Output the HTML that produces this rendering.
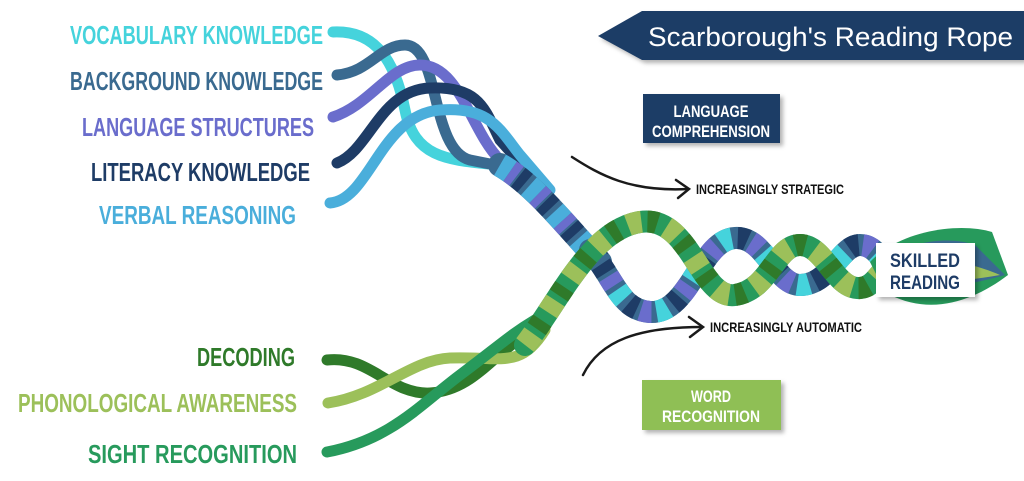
<!DOCTYPE html>
<html><head><meta charset="utf-8"><style>
html,body{margin:0;padding:0;background:#fff;}
svg{display:block;}
text{font-family:"Liberation Sans Narrow","Liberation Sans",sans-serif;font-weight:bold;}
</style></head><body>
<svg width="1024" height="481" viewBox="0 0 1024 481" xmlns="http://www.w3.org/2000/svg">
<defs>
<filter id="sh" x="-10%" y="-10%" width="130%" height="140%"><feDropShadow dx="3" dy="3" stdDeviation="2" flood-color="#000" flood-opacity="0.3"/></filter>
</defs>
<g font-size="26">
<text x="70" y="44" textLength="253" lengthAdjust="spacingAndGlyphs" fill="#45d3dc">VOCABULARY KNOWLEDGE</text>
<text x="70" y="90" textLength="253" lengthAdjust="spacingAndGlyphs" fill="#3a6a90">BACKGROUND KNOWLEDGE</text>
<text x="82" y="136" textLength="232" lengthAdjust="spacingAndGlyphs" fill="#6a6dcc">LANGUAGE STRUCTURES</text>
<text x="91" y="181" textLength="219" lengthAdjust="spacingAndGlyphs" fill="#1e3c66">LITERACY KNOWLEDGE</text>
<text x="99" y="224" textLength="197" lengthAdjust="spacingAndGlyphs" fill="#4aaedb">VERBAL REASONING</text>
<text x="197" y="366" textLength="98" lengthAdjust="spacingAndGlyphs" fill="#2f7a2a">DECODING</text>
<text x="18" y="412" textLength="279" lengthAdjust="spacingAndGlyphs" fill="#9cc05a">PHONOLOGICAL AWARENESS</text>
<text x="88" y="463" textLength="209" lengthAdjust="spacingAndGlyphs" fill="#279a5c">SIGHT RECOGNITION</text>
</g>
<g fill="none" stroke-linecap="round" stroke-width="11">
<path d="M333,32 C375,30 395,60 405,110 C415,160 450,160 500,165" stroke="#45d3dc"/>
<path d="M337,75 C370,72 380,45 405,45 C440,45 430,150 470,160 L520,170" stroke="#3a6a90"/>
<path d="M333,117 C370,105 390,65 420,65 C460,65 470,130 500,160 L530,175" stroke="#6a6dcc"/>
<path d="M337,163 C370,150 380,90 430,88 C480,86 485,110 500,140 L545,190" stroke="#1e3c66"/>
<path d="M330,203 C370,200 380,115 440,110 C490,106 500,130 520,155 L550,190" stroke="#4aaedb"/>
<path d="M500,165 C535,185 565,225 600,262" stroke="#3a6a90" stroke-width="24"/>
<path d="M500,165 C535,185 565,225 600,262" stroke="#4aaedb" stroke-width="24" stroke-dasharray="12 24" stroke-linecap="butt"/>
<path d="M500,165 C535,185 565,225 600,262" stroke="#1e3c66" stroke-width="24" stroke-dasharray="9 27" stroke-dashoffset="14" stroke-linecap="butt"/>
<path d="M500,165 C535,185 565,225 600,262" stroke="#6a6dcc" stroke-width="24" stroke-dasharray="8 28" stroke-dashoffset="24" stroke-linecap="butt"/>
<path d="M327,360 C370,355 390,395 430,393 C480,390 500,340 540,330" stroke="#2f7a2a"/>
<path d="M328,403 C380,395 410,360 450,358 C500,356 520,370 545,330" stroke="#9cc05a"/>
<path d="M327,452 C390,440 420,405 460,375 C500,345 510,335 535,320" stroke="#279a5c"/>
</g>
<g fill="none" stroke-linecap="round" stroke-width="22">
<path id="b" d="M590,250 C615,280 620,310 650,312 C690,314 700,240 735,238 C765,236 775,285 800,285 C830,285 840,245 860,245 C875,245 880,260 890,265"/>
<use href="#b" stroke="#3a6a90"/>
<use href="#b" stroke="#45d3dc" stroke-dasharray="12 36" stroke-linecap="butt"/>
<use href="#b" stroke="#6a6dcc" stroke-dasharray="11 37" stroke-dashoffset="16" stroke-linecap="butt"/>
<use href="#b" stroke="#1e3c66" stroke-dasharray="10 38" stroke-dashoffset="30" stroke-linecap="butt"/>
<path id="g" d="M525,345 C560,300 590,230 640,222 C690,214 700,300 735,295 C770,290 775,245 800,245 C825,245 835,290 860,288 C875,287 880,270 890,265"/>
<use href="#g" stroke="#279a5c"/>
<use href="#g" stroke="#9cc05a" stroke-dasharray="14 26" stroke-linecap="butt"/>
<use href="#g" stroke="#2f7a2a" stroke-dasharray="10 30" stroke-dashoffset="20" stroke-linecap="butt"/>
</g>
<path d="M870,262 C900,230 960,222 992,232 L1008,275 C975,300 930,318 885,292 Z" fill="#279a5c"/>
<path d="M880,262 C910,240 950,236 975,245 L1005,275 C970,285 930,292 890,280 Z" fill="#3a6a90"/>
<path d="M900,270 C930,258 960,258 1000,275 C960,282 930,284 900,278 Z" fill="#9cc05a"/>
<rect x="876" y="243" width="99" height="54" fill="#fff" filter="url(#sh)"/>
<text x="925" y="267" font-size="19" fill="#1e3c66" text-anchor="middle" textLength="70" lengthAdjust="spacingAndGlyphs">SKILLED</text>
<text x="925" y="289" font-size="19" fill="#1e3c66" text-anchor="middle" textLength="70" lengthAdjust="spacingAndGlyphs">READING</text>
<g fill="none" stroke="#1a1a1a" stroke-width="2.5" stroke-linecap="round">
<path d="M572,157 C600,175 630,192 688,189"/>
<path d="M676,180 L689,189 L678,198"/>
<path d="M583,375 C600,340 640,327 702,327"/>
<path d="M689,317 L703,327 L690,337"/>
</g>
<text x="696" y="194" font-size="14" fill="#111" textLength="148" lengthAdjust="spacingAndGlyphs">INCREASINGLY STRATEGIC</text>
<text x="710" y="332" font-size="14" fill="#111" textLength="152" lengthAdjust="spacingAndGlyphs">INCREASINGLY AUTOMATIC</text>
<polygon points="598,36 642,11 1024,11 1024,60 642,60" fill="#1f3e66" filter="url(#sh)"/>
<text x="648" y="46" font-size="27" fill="#fff" style="font-family:'Liberation Sans',sans-serif;font-weight:normal" textLength="365" lengthAdjust="spacingAndGlyphs">Scarborough's Reading Rope</text>
<rect x="643" y="94" width="137" height="49" fill="#1f3e66" filter="url(#sh)"/>
<text x="711" y="117" font-size="17" fill="#fff" text-anchor="middle" textLength="75" lengthAdjust="spacingAndGlyphs">LANGUAGE</text>
<text x="711" y="137" font-size="17" fill="#fff" text-anchor="middle" textLength="118" lengthAdjust="spacingAndGlyphs">COMPREHENSION</text>
<rect x="642" y="380" width="139" height="50" fill="#8fbf55" filter="url(#sh)"/>
<text x="711" y="402" font-size="17" fill="#fff" text-anchor="middle" textLength="40" lengthAdjust="spacingAndGlyphs">WORD</text>
<text x="711" y="422" font-size="17" fill="#fff" text-anchor="middle" textLength="98" lengthAdjust="spacingAndGlyphs">RECOGNITION</text>
</svg>
</body></html>
